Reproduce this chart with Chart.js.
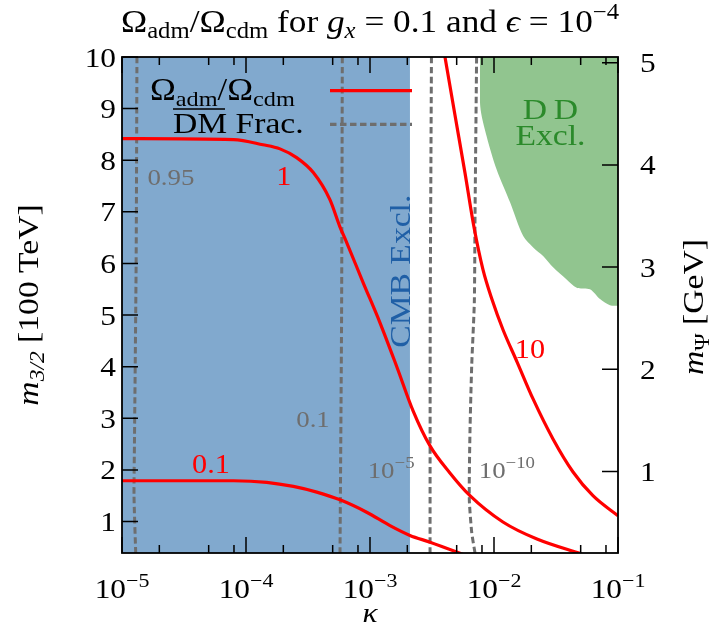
<!DOCTYPE html>
<html>
<head>
<meta charset="utf-8">
<script src="https://cdn.jsdelivr.net/npm/chart.js@4.4.0/dist/chart.umd.min.js"></script>
<style>
  html, body { margin: 0; padding: 0; background: #fff; }
</style>
</head>
<body>
<canvas id="chart" width="712" height="635"></canvas>
<script>
// tick labels
const xTickExps = [-5, -4, -3, -2, -1];
const xMinorMults = [2, 5, 8];
const leftTicks = [1, 2, 3, 4, 5, 6, 7, 8, 9, 10];
const rightTicks = [1, 2, 3, 4, 5];

// Omega_adm / Omega_cdm contours (kappa, m_3/2 in 100 TeV)
const ratio01Kappa = [1e-5, 7.94e-5, 1.47e-4, 2.41e-4, 3.72e-4, 5.73e-4, 9.40e-4, 1.45e-3, 2.10e-3, 3.05e-3, 5.0e-3, 6.4e-3];
const ratio01Mass  = [1.79, 1.79, 1.76, 1.68, 1.57, 1.42, 1.18, 0.92, 0.73, 0.60, 0.41, 0.31];

const ratio1Kappa = [1e-5, 7.94e-5, 1.37e-4, 1.88e-4, 2.56e-4, 3.49e-4, 4.74e-4, 5.70e-4, 6.50e-4, 8.80e-4, 1.20e-3, 1.65e-3, 2.23e-3, 3.04e-3, 4.41e-3, 6.40e-3, 1.18e-2, 2.22e-2, 5.1e-2];
const ratio1Mass  = [8.42, 8.40, 8.30, 8.22, 8.05, 7.76, 7.24, 6.72, 6.40, 5.63, 4.86, 3.99, 3.14, 2.47, 1.94, 1.50, 0.99, 0.66, 0.37];

const ratio10Kappa = [3.92e-3, 4.84e-3, 5.83e-3, 6.90e-3, 8.15e-3, 9.64e-3, 1.18e-2, 1.53e-2, 2.07e-2, 2.99e-2, 4.34e-2, 6.28e-2, 0.1];
const ratio10Mass  = [10.16, 8.88, 7.76, 6.70, 5.88, 5.30, 4.72, 4.10, 3.37, 2.60, 1.96, 1.50, 1.11];

// DM fraction contours
const frac095Kappa = [1.32e-5, 1.30e-5, 1.26e-5, 1.25e-5, 1.29e-5];
const frac095Mass  = [10, 6, 2.5, 1.5, 0.39];
const frac01Kappa = [5.98e-4, 5.90e-4, 5.73e-4];
const frac01Mass  = [10, 5, 0.39];
const frac1e5Kappa = [3.13e-3, 3.06e-3, 3.05e-3];
const frac1e5Mass  = [10, 5, 0.39];
const frac1e10Kappa = [7.24e-3, 7.03e-3, 6.94e-3, 6.61e-3, 6.40e-3, 6.32e-3, 6.61e-3, 7.03e-3];
const frac1e10Mass  = [10, 6.92, 5.25, 4.02, 2.73, 1.44, 0.79, 0.39];

// excluded regions
const cmbKappa = [1e-5, 2.10e-3];
const cmbMass  = [10, 10];
const ddKappa = [7.71e-3, 7.75e-3, 8.73e-3, 1.05e-2, 1.35e-2, 1.72e-2, 2.07e-2, 2.50e-2, 3.01e-2, 3.85e-2, 4.65e-2, 5.94e-2, 7.16e-2, 8.61e-2, 0.1];
const ddMass  = [10, 9.04, 8.46, 7.82, 7.18, 6.53, 6.31, 6.14, 5.92, 5.69, 5.53, 5.50, 5.31, 5.19, 5.18];

const pts = (xs, ys) => xs.map((x, i) => ({ x, y: ys[i] }));

const SERIF = '"Liberation Serif", "DejaVu Serif", serif';
const STRETCH = 1.12;
const RED = '#ff0000';
const GREY = '#6e6e6e';

// draws text made of pieces: [text, kind] with kind '', 'i', 'sub', 'isub', 'sup'
function richText(ctx, x, y, parts, size, color, align) {
  const items = parts.map(([t, k = '']) => {
    const small = k.includes('sub') || k.includes('sup');
    const fs = small ? size * 0.7 : size;
    const font = (k.startsWith('i') ? 'italic ' : '') + fs + 'px ' + SERIF;
    ctx.font = font;
    const w = ctx.measureText(t).width;
    const dy = k.includes('sub') ? size * 0.2 : k.includes('sup') ? -size * 0.4 : 0;
    return { t, font, w, dy };
  });
  const total = items.reduce((s, it) => s + it.w, 0) * STRETCH;
  let x0 = align === 'center' ? x - total / 2 : align === 'right' ? x - total : x;
  ctx.save();
  ctx.translate(x0, y);
  ctx.scale(STRETCH, 1);
  ctx.fillStyle = color;
  ctx.textAlign = 'left';
  ctx.textBaseline = 'alphabetic';
  let cx = 0;
  for (const it of items) {
    ctx.font = it.font;
    ctx.fillText(it.t, cx, it.dy);
    cx += it.w;
  }
  ctx.restore();
  return total;
}

function rotatedText(ctx, cx, cy, parts, size, color) {
  ctx.save();
  ctx.translate(cx, cy);
  ctx.rotate(-Math.PI / 2);
  richText(ctx, 0, size * 0.33, parts, size, color, 'center');
  ctx.restore();
}

const decorations = {
  id: 'decorations',
  afterDatasetsDraw(chart) {
    const { ctx, chartArea: a, scales } = chart;
    const sx = scales.x, sy = scales.y, sr = scales.y2;
    const px = v => sx.getPixelForValue(v);
    const py = v => sy.getPixelForValue(v);
    ctx.save();

    // legend
    ctx.lineWidth = 3.2;
    ctx.strokeStyle = RED;
    ctx.beginPath(); ctx.moveTo(330, 90.7); ctx.lineTo(412, 90.7); ctx.stroke();
    ctx.strokeStyle = GREY;
    ctx.setLineDash([6.5, 3.5]);
    ctx.beginPath(); ctx.moveTo(330, 124.3); ctx.lineTo(412, 124.3); ctx.stroke();
    ctx.setLineDash([]);
    richText(ctx, 150, 100, [['Ω'], ['adm', 'sub'], ['/Ω'], ['cdm', 'sub']], 31, '#000', 'left');
    richText(ctx, 173, 133, [['DM Frac.']], 30, '#000', 'left');
    ctx.strokeStyle = '#000'; ctx.lineWidth = 1.4;
    ctx.beginPath(); ctx.moveTo(173, 109); ctx.lineTo(225, 109); ctx.stroke();

    // contour labels
    richText(ctx, px(2.48e-5), py(7.67) + 8, [['0.95']], 24, GREY, 'center');
    richText(ctx, px(2.02e-4), py(7.70) + 9, [['1']], 27, RED, 'center');
    richText(ctx, px(3.47e-4), py(2.98) + 8, [['0.1']], 24, GREY, 'center');
    richText(ctx, px(5.22e-5), py(2.11) + 9, [['0.1']], 27, RED, 'center');
    richText(ctx, px(1.48e-3), py(2.02) + 9, [['10'], ['−5', 'sup']], 24, GREY, 'center');
    richText(ctx, px(1.27e-2), py(2.02) + 9, [['10'], ['−10', 'sup']], 24, GREY, 'center');
    richText(ctx, px(1.95e-2), py(4.34) + 9, [['10']], 27, RED, 'center');
    rotatedText(ctx, px(1.75e-3), py(5.85), [['CMB Excl.']], 30, '#1f5fa6');
    richText(ctx, px(2.85e-2), py(8.79), [['D\u2009D']], 30, '#2b8a2b', 'center');
    richText(ctx, px(2.85e-2), py(8.30), [['Excl.']], 30, '#2b8a2b', 'center');

    // frame and ticks
    ctx.strokeStyle = '#000';
    ctx.lineWidth = 1.8;
    ctx.strokeRect(a.left, a.top, a.right - a.left, a.bottom - a.top);
    ctx.lineWidth = 1.5;
    ctx.beginPath();
    xTickExps.forEach(e => {
      const p = px(10 ** e);
      ctx.moveTo(p, a.bottom); ctx.lineTo(p, a.bottom - 16);
      ctx.moveTo(p, a.top); ctx.lineTo(p, a.top + 16);
      if (e < -1) xMinorMults.forEach(m => {
        const q = px(m * 10 ** e);
        ctx.moveTo(q, a.bottom); ctx.lineTo(q, a.bottom - 8);
        ctx.moveTo(q, a.top); ctx.lineTo(q, a.top + 8);
      });
    });
    leftTicks.forEach(v => { const q = py(v); ctx.moveTo(a.left, q); ctx.lineTo(a.left + 16, q); });
    rightTicks.forEach(v => { const q = sr.getPixelForValue(v); ctx.moveTo(a.right, q); ctx.lineTo(a.right - 16, q); });
    ctx.stroke();

    // tick labels
    xTickExps.forEach(e => richText(ctx, px(10 ** e), 598, [['10'], ['−' + (-e), 'sup']], 28, '#000', 'center'));
    leftTicks.forEach(v => richText(ctx, a.left - 6, py(v) + 9.5, [[String(v)]], 28, '#000', 'right'));
    rightTicks.forEach(v => richText(ctx, a.right + 22, sr.getPixelForValue(v) + 9.5, [[String(v)]], 28, '#000', 'left'));

    // titles
    richText(ctx, 370, 32, [['Ω'], ['adm', 'sub'], ['/Ω'], ['cdm', 'sub'], [' for '], ['g', 'i'], ['x', 'isub'],
      [' = 0.1 and '], ['ϵ', 'i'], [' = 10'], ['−4', 'sup']], 31.5, '#000', 'center');
    richText(ctx, (a.left + a.right) / 2, 622, [['κ', 'i']], 28, '#000', 'center');
    rotatedText(ctx, 28, 305, [['m', 'i'], ['3/2', 'isub'], [' [100 TeV]']], 30, '#000');
    rotatedText(ctx, 693, 307, [['m', 'i'], ['Ψ', 'sub'], [' [GeV]']], 30, '#000');

    ctx.restore();
  }
};

const lineBase = { pointRadius: 0, fill: false, clip: 0 };
const redLine = d => ({ ...lineBase, data: d, borderColor: RED, borderWidth: 3.2, cubicInterpolationMode: 'monotone', order: 1 });
const greyLine = d => ({ ...lineBase, data: d, borderColor: GREY, borderWidth: 3, borderDash: [6.5, 3.5], tension: 0.2, order: 2 });

new Chart(document.getElementById('chart'), {
  type: 'line',
  data: {
    datasets: [
      { ...lineBase, data: pts(cmbKappa, cmbMass), borderWidth: 0, backgroundColor: '#81a9ce', fill: 'start', order: 10 },
      { ...lineBase, data: pts(ddKappa, ddMass), borderWidth: 0, backgroundColor: '#91c58f', fill: 'end', tension: 0.3, order: 10 },
      greyLine(pts(frac095Kappa, frac095Mass)),
      greyLine(pts(frac01Kappa, frac01Mass)),
      greyLine(pts(frac1e5Kappa, frac1e5Mass)),
      greyLine(pts(frac1e10Kappa, frac1e10Mass)),
      redLine(pts(ratio01Kappa, ratio01Mass)),
      redLine(pts(ratio1Kappa, ratio1Mass)),
      redLine(pts(ratio10Kappa, ratio10Mass))
    ]
  },
  options: {
    responsive: false,
    devicePixelRatio: 1,
    animation: false,
    layout: { padding: { left: 122, right: 94, top: 57, bottom: 82 } },
    plugins: { legend: { display: false }, tooltip: { enabled: false } },
    scales: {
      x: { type: 'logarithmic', min: 1e-5, max: 1e-1, display: false },
      y: { type: 'linear', min: 0.39, max: 10, display: false },
      y2: { type: 'linear', position: 'right', min: 0.202, max: 5.056, display: false }
    }
  },
  plugins: [decorations]
});
</script>
</body>
</html>
